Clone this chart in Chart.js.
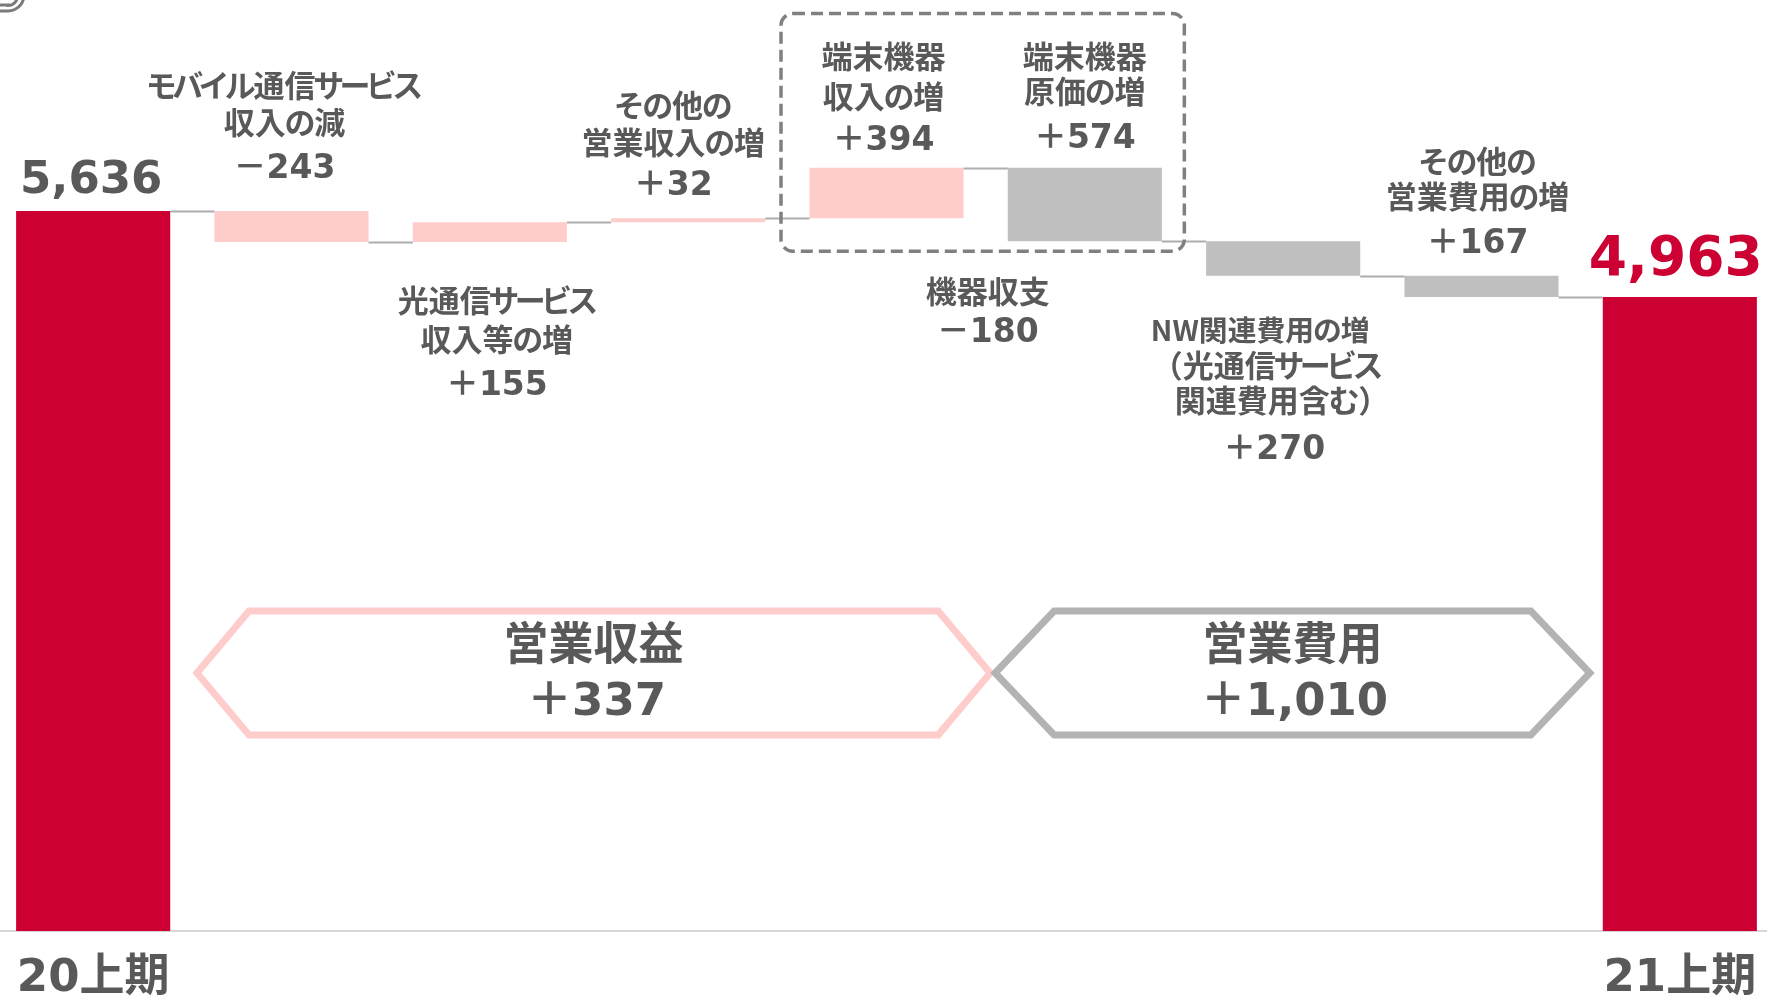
<!DOCTYPE html>
<html><head><meta charset="utf-8">
<script src="https://cdn.jsdelivr.net/npm/chart.js@4"></script>
<style>html,body{margin:0;padding:0;background:#fff;overflow:hidden;width:1767px;height:998px;position:relative}
#c{position:absolute;left:-6px;top:0;display:block;width:1785px;height:998px}</style>
</head><body>
<canvas id="c" width="1785" height="998"></canvas>
<script>
// ---- data ----
const periodLabels = ["20上期", "21上期"];
const startValue = 5636;
const endValue = 4963;
const revenueItems = [["モバイル通信サービス", "収入の減"], ["光通信サービス", "収入等の増"], ["その他の", "営業収入の増"], ["端末機器", "収入の増"]];
const revenueChanges = [-243, 155, 32, 394];
const costItems = [["端末機器", "原価の増"], ["NW関連費用の増", "（光通信サービス", "関連費用含む）"], ["その他の", "営業費用の増"]];
const costIncreases = [574, 270, 167];
const deviceBalanceLabel = "機器収支";
const deviceBalanceValue = -180;
const revenueSummaryLabel = "営業収益";
const revenueSummaryValue = 337;
const costSummaryLabel = "営業費用";
const costSummaryValue = 1010;

// ---- styles ----
const FONT = '"DejaVu Sans", "Noto Sans CJK JP", sans-serif';
const JFONT = '"Noto Sans CJK JP", "DejaVu Sans", sans-serif';
const TEXT = '#595959';
const RED = '#CC0033';
const PINK = '#FFCCCC';
const GRAY = '#BFBFBF';
const PAGE_SHIFT = 6; // canvas is shifted left by this many px

const fmt = v => (v < 0 ? '－' : '＋') + Math.abs(v).toLocaleString('en-US');

// build floating bars from the values
const categories = [periodLabels[0]];
const floating = [[0, startValue]];
const colors = [RED];
const totals = [startValue];
let run = startValue;
revenueChanges.forEach(v => { const n = run + v; floating.push([Math.min(run, n), Math.max(run, n)]); colors.push(PINK); categories.push(''); run = n; totals.push(run); });
costIncreases.forEach(v => { const n = run - v; floating.push([Math.min(run, n), Math.max(run, n)]); colors.push(GRAY); categories.push(''); run = n; totals.push(run); });
categories.push(periodLabels[1]);
floating.push([0, endValue]);
colors.push(RED);

const itemNames = revenueItems.concat(costItems);
const itemValues = revenueChanges.concat(costIncreases);
// label placement relative to its bar (layout only): gap to bar, line spacing, gap before value
const placement = [
  {pos: 'above', gap: 42, ls: 37, vg: 44, dx: -7},
  {pos: 'below', gap: 61, ls: 39, vg: 44, dx: 7},
  {pos: 'above', gap: 31.5, ls: 37, vg: 41, dx: -15},
  {pos: 'above', gap: 26.5, ls: 40, vg: 42, dx: -3},
  {pos: 'above', gap: 28.5, ls: 35, vg: 45, dx: 0},
  {pos: 'below', gap: 57.5, ls: 35, vg: 47.5, dx: -9, lineDx: [-14, 0, 0], lineScale: [0.93, 1, 1]},
  {pos: 'above', gap: 31.5, ls: 35, vg: 45, dx: -4}
];

// draw Japanese text with proportional kana (like palt)
function drawJ(ctx, text, cx, y, scale) {
  scale = scale || 1;
  ctx.textAlign = 'left';
  const items = [...text].map(ch => {
    const w = ctx.measureText(ch).width * scale;
    let adv = w, off = 0;
    if (/[\u30A0-\u30FF]/.test(ch)) { adv = w * 0.85; off = -(w - adv) / 2; }
    else if (/[\u3040-\u309F]/.test(ch)) { adv = w * 0.92; off = -(w - adv) / 2; }
    else if (ch === '（') { adv = w * 0.5; off = -w * 0.5; }
    else if (ch === '）') { adv = w * 0.5; off = 0; }
    return {ch, adv, off};
  });
  const total = items.reduce((a, b) => a + b.adv, 0);
  let x = cx - total / 2;
  items.forEach(it => {
    if (scale !== 1) {
      ctx.save(); ctx.translate(x + it.off, y - 3); ctx.scale(scale, scale); ctx.fillText(it.ch, 0, 0); ctx.restore();
    } else {
      ctx.fillText(it.ch, x + it.off, y - 3);
    }
    x += it.adv;
  });
  ctx.textAlign = 'center';
}

const overlay = {
  id: 'overlay',
  afterDatasetsDraw(chart) {
    const ctx = chart.ctx, ys = chart.scales.y;
    const els = chart.getDatasetMeta(0).data;
    ctx.save();
    ctx.strokeStyle = '#ADADAD'; ctx.lineWidth = 2;
    for (let i = 0; i < els.length - 1; i++) {
      const a = els[i], b = els[i + 1];
      const y = Math.round(ys.getPixelForValue(totals[i])) + 0.5;
      ctx.beginPath(); ctx.moveTo(a.x + a.width / 2, y); ctx.lineTo(b.x - b.width / 2, y); ctx.stroke();
    }
    ctx.restore();
  },
  afterDraw(chart) {
    const ctx = chart.ctx, xs = chart.scales.x, ys = chart.scales.y;
    const els = chart.getDatasetMeta(0).data;
    const c = i => xs.getPixelForValue(i);
    const base = chart.chartArea.bottom;
    ctx.save();
    ctx.textAlign = 'center';
    ctx.textBaseline = 'middle';
    ctx.fillStyle = TEXT;
    const NAME = 'bold 31px ' + JFONT, VAL = 'bold 33px ' + FONT;

    // item labels
    itemNames.forEach((lines, k) => {
      const p = placement[k];
      const el = els[k + 1];
      const top = Math.min(el.y, el.base), bot = Math.max(el.y, el.base);
      const x = el.x + p.dx;
      const val = fmt(itemValues[k]);
      let lineYs, vy;
      if (p.pos === 'above') {
        vy = top - p.gap;
        const last = vy - p.vg;
        lineYs = lines.map((l, j) => last - (lines.length - 1 - j) * p.ls);
      } else {
        const first = bot + p.gap;
        lineYs = lines.map((l, j) => first + j * p.ls);
        vy = lineYs[lineYs.length - 1] + p.vg;
      }
      ctx.font = NAME;
      lines.forEach((l, j) => drawJ(ctx, l, x + (p.lineDx ? p.lineDx[j] : 0), lineYs[j], p.lineScale ? p.lineScale[j] : 1));
      ctx.font = VAL;
      ctx.fillText(val, x, vy);
    });

    // dashed box around device items
    const bx0 = c(4) - 105.5, bx1 = c(5) + 99.5, by0 = 13.5;
    const by1 = ys.getPixelForValue(totals[5]) + 10;
    ctx.strokeStyle = '#808080'; ctx.lineWidth = 3.5; ctx.setLineDash([12, 6]);
    ctx.beginPath(); ctx.roundRect(bx0, by0, bx1 - bx0, by1 - by0, 12); ctx.stroke();
    ctx.setLineDash([]);
    const mx = (c(4) + c(5)) / 2 + 2;
    ctx.font = NAME; drawJ(ctx, deviceBalanceLabel, mx, by1 + 43);
    ctx.font = VAL; ctx.fillText(fmt(deviceBalanceValue), mx, by1 + 82);

    // start / end values
    ctx.textBaseline = 'alphabetic';
    ctx.font = 'bold 45px ' + FONT; ctx.fillStyle = TEXT;
    ctx.fillText(startValue.toLocaleString('en-US'), els[0].x - 2, els[0].y - 18);
    ctx.font = 'bold 55px ' + FONT; ctx.fillStyle = RED;
    const e = els[els.length - 1];
    ctx.fillText(endValue.toLocaleString('en-US'), e.x - 4, e.y - 22);

    // summary hexagons
    const hy0 = base - 320, hy1 = base - 196, hm = (hy0 + hy1) / 2;
    const hex = (l, r, inset, color) => {
      ctx.strokeStyle = color; ctx.lineWidth = 7; ctx.lineJoin = 'miter';
      ctx.beginPath();
      ctx.moveTo(l, hm); ctx.lineTo(l + inset, hy0); ctx.lineTo(r - inset, hy0);
      ctx.lineTo(r, hm); ctx.lineTo(r - inset, hy1); ctx.lineTo(l + inset, hy1); ctx.closePath();
      ctx.stroke();
    };
    const mid45 = (c(4) + c(5)) / 2;
    const pl = c(1) - 94.5, pr = mid45 + 4.5, gl = mid45 + 9.5, gr = c(8) - 90;
    hex(pl, pr, 52, PINK);
    hex(gl, gr, 59, '#B3B3B3');
    ctx.textBaseline = 'middle'; ctx.fillStyle = TEXT;
    ctx.font = 'bold 45px ' + FONT;
    ctx.fillText(revenueSummaryLabel, (pl + pr) / 2, hm - 25);
    ctx.fillText(costSummaryLabel, (gl + gr) / 2, hm - 25);
    ctx.fillText(fmt(revenueSummaryValue), (pl + pr) / 2 + 3, hm + 30);
    ctx.fillText(fmt(costSummaryValue), (gl + gr) / 2 + 2, hm + 30);

    // decorative corner at top-left of the page
    const ox = PAGE_SHIFT;
    ctx.strokeStyle = '#7A7A7A'; ctx.lineWidth = 3;
    ctx.beginPath(); ctx.moveTo(ox, 11); ctx.lineTo(ox + 8, 11); ctx.arc(ox + 8, -5, 16, Math.PI / 2, 0, true); ctx.stroke();
    ctx.beginPath(); ctx.moveTo(ox, 5); ctx.lineTo(ox + 8, 5); ctx.arc(ox + 8, -4, 9.5, Math.PI / 2, 0, true); ctx.stroke();
    ctx.restore();
  }
};

new Chart(document.getElementById('c'), {
  type: 'bar',
  data: {
    labels: categories,
    datasets: [{ data: floating, backgroundColor: colors, borderWidth: 0, barPercentage: 0.777, categoryPercentage: 1 }]
  },
  options: {
    responsive: false, animation: false, devicePixelRatio: 1,
    layout: { padding: 0 },
    plugins: { legend: { display: false }, tooltip: { enabled: false } },
    scales: {
      x: {
        grid: { display: false, drawTicks: false },
        border: { display: true, color: '#D6D6D6', width: 2 },
        ticks: { color: TEXT, font: { family: FONT, size: 45, weight: 'bold', lineHeight: 1.2 }, padding: 21, maxRotation: 0, autoSkip: false },
        afterFit: s => { s.height = 67; }
      },
      y: { display: false, min: 0, max: 7288 }
    }
  },
  plugins: [overlay]
});
</script>
</body></html>
